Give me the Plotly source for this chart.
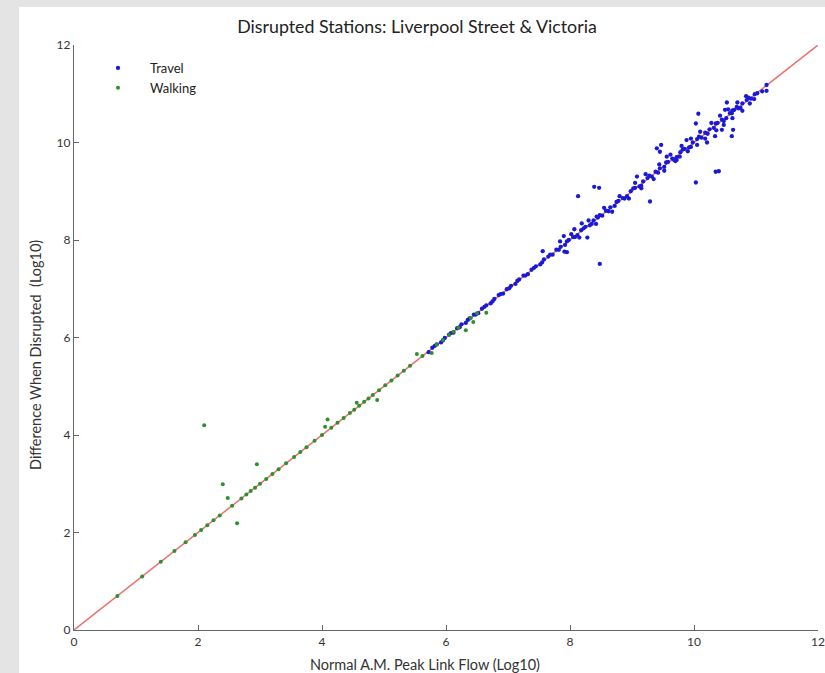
import plotly.graph_objects as go

# ---------------- data ----------------
title_text = "Disrupted Stations: Liverpool Street &amp; Victoria"
x_title = "Normal A.M. Peak Link Flow (Log10)"
y_title = "Difference When Disrupted \u00a0(Log10)"
tick_vals = [0, 2, 4, 6, 8, 10, 12]
tick_text = ["0", "2", "4", "6", "8", "10", "12"]

ref_x = [0, 12]
ref_y = [0, 12]

# Walking (green)
walk_x = [0.70, 1.10, 1.40, 1.62, 1.80, 1.95, 2.05, 2.15, 2.25, 2.35,
          2.55, 2.70, 2.78, 2.85, 2.92, 3.00, 3.10, 3.20, 3.30, 3.42,
          3.55, 3.65, 3.75, 3.88, 4.00, 4.15, 4.25, 4.35, 4.45, 4.52,
          4.60, 4.68, 4.75, 4.82, 4.92, 5.02, 5.12, 5.22, 5.32, 5.42,
          5.62, 5.85, 5.95, 6.05, 6.12, 6.20, 6.40, 6.50,
          2.10, 2.40, 2.48, 2.63, 2.95, 4.09, 4.05, 4.56, 4.89, 5.53,
          5.77, 6.32, 6.44, 6.65]
walk_y = [0.70, 1.10, 1.40, 1.62, 1.80, 1.95, 2.05, 2.15, 2.25, 2.35,
          2.55, 2.70, 2.78, 2.85, 2.92, 3.00, 3.10, 3.20, 3.30, 3.42,
          3.55, 3.65, 3.75, 3.88, 4.00, 4.15, 4.25, 4.35, 4.45, 4.52,
          4.60, 4.68, 4.75, 4.82, 4.92, 5.02, 5.12, 5.22, 5.32, 5.42,
          5.62, 5.85, 5.95, 6.05, 6.12, 6.20, 6.40, 6.50,
          4.20, 2.99, 2.71, 2.19, 3.40, 4.32, 4.17, 4.66, 4.72, 5.66,
          5.68, 6.15, 6.32, 6.51]

# Travel (blue) - points along the diagonal
travel_line_x = [5.72, 5.78, 5.85, 5.92, 5.98, 6.05, 6.12, 6.18, 6.25, 6.32,
                 6.38, 6.45, 6.52, 6.58, 6.65, 6.72, 6.78, 6.85, 6.92, 6.98,
                 7.05, 7.12, 7.18, 7.25, 7.32, 7.38, 7.45, 7.52, 7.58, 7.65,
                 7.72, 7.78, 7.85, 7.92, 7.98, 8.05, 8.12, 8.18, 8.25, 8.32,
                 8.38, 8.45, 8.52, 8.58, 8.65, 8.72, 8.78, 8.85, 8.92, 8.98,
                 9.05, 9.12, 9.18, 9.25, 9.32, 9.38, 9.45, 9.52, 9.58, 9.65,
                 9.72, 9.78, 9.85, 9.92, 9.98, 10.05, 10.12, 10.18, 10.25, 10.32,
                 10.38, 10.45, 10.52, 10.58, 10.65, 10.72, 10.78, 10.85, 10.92, 10.98]
travel_line_y = [5.70, 5.79, 5.86, 5.90, 5.99, 6.06, 6.10, 6.19, 6.27, 6.30,
                 6.39, 6.47, 6.50, 6.59, 6.66, 6.70, 6.79, 6.87, 6.90, 6.99,
                 7.06, 7.10, 7.19, 7.27, 7.30, 7.39, 7.46, 7.50, 7.60, 7.66,
                 7.70, 7.80, 7.86, 7.90, 8.00, 8.06, 8.10, 8.20, 8.27, 8.30,
                 8.40, 8.46, 8.50, 8.60, 8.67, 8.70, 8.80, 8.86, 8.90, 9.00,
                 9.07, 9.10, 9.20, 9.27, 9.30, 9.40, 9.47, 9.50, 9.60, 9.67,
                 9.70, 9.80, 9.87, 9.90, 10.00, 10.07, 10.10, 10.20, 10.27, 10.30,
                 10.40, 10.47, 10.50, 10.60, 10.67, 10.70, 10.80, 10.87, 10.90, 10.99]

# Travel - second set of points along the diagonal (fills the dense line)
travel_fill_x = [5.82, 5.95, 6.08, 6.22, 6.35, 6.48, 6.62, 6.75, 6.88, 7.02,
                 7.15, 7.28, 7.42, 7.55, 7.68, 7.82, 7.95, 8.08, 8.22, 8.35,
                 8.48, 8.62, 8.75, 8.88, 9.02, 9.15, 9.28, 9.42, 9.55, 9.68,
                 9.82, 9.95, 10.08, 10.22, 10.35, 10.48, 10.62, 10.75, 10.88, 11.02]
travel_fill_y = [5.83, 5.94, 6.09, 6.21, 6.36, 6.47, 6.63, 6.74, 6.89, 7.01,
                 7.16, 7.27, 7.43, 7.54, 7.70, 7.80, 7.97, 8.06, 8.24, 8.33,
                 8.51, 8.59, 8.78, 8.85, 9.06, 9.11, 9.32, 9.38, 9.59, 9.64,
                 9.86, 9.91, 10.12, 10.18, 10.39, 10.44, 10.66, 10.71, 10.92, 11.01]

# Travel - band of points scattered slightly around the diagonal
travel_band_x = [8.02, 8.15, 8.30, 8.42, 8.55, 8.68, 8.80, 8.95, 9.05, 9.15,
                 9.22, 9.35, 9.44, 9.52, 9.62, 9.70, 9.80, 9.90, 9.95, 10.05,
                 10.10, 10.18, 10.28, 10.36, 10.42, 10.48, 10.55, 10.62, 10.70, 10.78,
                 10.84, 10.90]
travel_band_y = [8.12, 8.05, 8.40, 8.33, 8.66, 8.58, 8.90, 8.85, 9.17, 9.06,
                 9.35, 9.25, 9.55, 9.42, 9.75, 9.62, 9.93, 9.82, 10.08, 9.95,
                 10.22, 10.08, 10.40, 10.25, 10.55, 10.36, 10.68, 10.50, 10.82, 10.65,
                 10.95, 10.80]

# Travel - outliers
travel_out_x = [7.56, 7.84, 7.90, 7.91, 7.95, 8.07, 8.13, 8.19, 8.28, 8.39,
                8.47, 8.43, 8.48, 9.08, 9.29, 9.40, 9.47, 9.45, 9.56, 9.72,
                9.77, 9.88, 10.03, 10.03, 10.07, 10.21, 10.34, 10.35, 10.40, 10.45,
                10.50, 10.53, 10.61, 10.61, 10.63, 10.69, 10.97, 11.17, 11.17, 11.10]
travel_out_y = [7.77, 7.97, 8.08, 7.76, 7.75, 8.22, 8.90, 8.34, 8.05, 9.09,
                9.07, 8.48, 7.51, 9.30, 8.79, 9.88, 9.95, 9.81, 9.71, 9.64,
                9.71, 10.05, 9.18, 10.39, 10.59, 10.00, 10.13, 9.40, 9.41, 10.26,
                10.67, 10.82, 10.60, 10.13, 10.26, 10.73, 10.89, 11.06, 11.18, 11.05]

travel_x = travel_line_x + travel_fill_x + travel_band_x + travel_out_x
travel_y = travel_line_y + travel_fill_y + travel_band_y + travel_out_y

# ---------------- figure ----------------
FONT = "Lato, 'Liberation Sans Narrow', Arial, sans-serif"
BLUE = "#1a1ad6"
GREEN = "#2f8f2f"

fig = go.Figure()
fig.add_trace(go.Scatter(x=ref_x, y=ref_y, mode="lines",
                         line=dict(color="#ec7070", width=1.5),
                         showlegend=False, hoverinfo="skip"))
fig.add_trace(go.Scatter(x=travel_x, y=travel_y, mode="markers", name="Travel",
                         marker=dict(color=BLUE, size=4.3)))
fig.add_trace(go.Scatter(x=walk_x, y=walk_y, mode="markers", name="Walking",
                         marker=dict(color=GREEN, size=4)))

L, R, T, B = 74, 7, 45, 43
W, H = 825, 673
pw, ph = W - L - R, H - T - B

def px2paper_x(px):
    return (px - L) / pw

def py2paper_y(py):
    return (H - B - py) / ph

fig.add_shape(type="rect", xref="paper", yref="paper",
              x0=px2paper_x(19), x1=px2paper_x(W + 2),
              y0=py2paper_y(H + 2), y1=py2paper_y(7),
              fillcolor="white", line=dict(width=0), layer="below")

axis_common = dict(
    range=[0, 12], tickvals=tick_vals, ticktext=tick_text,
    ticks="inside", ticklen=5, tickcolor="#666", tickwidth=1,
    showline=True, linecolor="#666", linewidth=1.3,
    showgrid=False, zeroline=False, mirror=False,
    tickfont=dict(family=FONT, size=12, color="#333"),
)

fig.update_layout(
    width=W, height=H,
    margin=dict(l=L, r=R, t=T, b=B, autoexpand=False),
    paper_bgcolor="#e4e4e4", plot_bgcolor="white",
    font=dict(family=FONT, color="#333"),
    title=dict(text=title_text, x=px2paper_x(417), xref="paper", xanchor="center",
               y=1 - 27 / H, yref="container", yanchor="middle",
               font=dict(family=FONT, size=17.8, color="#222")),
    xaxis=dict(**axis_common),
    yaxis=dict(**axis_common),
    legend=dict(x=px2paper_x(86), y=py2paper_y(53), xanchor="left", yanchor="top",
                bgcolor="rgba(0,0,0,0)", font=dict(family=FONT, size=13, color="#222"),
                itemwidth=54, tracegroupgap=0),
    showlegend=True,
)

fig.add_annotation(text=x_title, xref="paper", yref="paper",
                   x=px2paper_x(425), y=py2paper_y(664), xanchor="center", yanchor="middle",
                   showarrow=False, font=dict(family=FONT, size=14.5, color="#333"))
fig.add_annotation(text=y_title, xref="paper", yref="paper",
                   x=px2paper_x(35), y=py2paper_y(355), xanchor="center", yanchor="middle",
                   textangle=-90, showarrow=False,
                   font=dict(family=FONT, size=14.5, color="#333"))

fig.write_html("out.html",
               config={"displayModeBar": False},
               post_script="document.body.style.margin='0px';document.body.style.overflow='hidden';")
